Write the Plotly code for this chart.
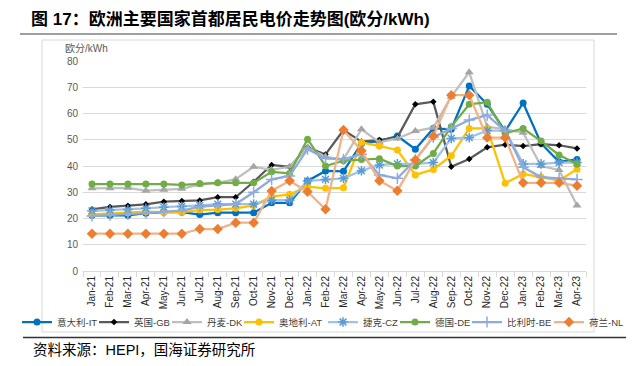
import plotly.graph_objects as go

months = ["Jan-21","Feb-21","Mar-21","Apr-21","May-21","Jun-21","Jul-21","Aug-21","Sep-21","Oct-21",
          "Nov-21","Dec-21","Jan-22","Feb-22","Mar-22","Apr-22","May-22","Jun-22","Jul-22","Aug-22",
          "Sep-22","Oct-22","Nov-22","Dec-22","Jan-23","Feb-23","Mar-23","Apr-23"]

it = [21.2,21.2,21.2,22.0,22.4,22.4,21.5,22.2,22.2,22.2,26.0,26.0,34.3,38.1,38.0,48.6,49.5,51.4,46.4,54.3,54.0,70.5,63.5,53.3,64.0,48.6,41.6,42.5]
gb = [23.5,24.4,24.9,25.4,26.4,26.7,26.9,28.1,28.1,34.0,40.4,39.7,47.1,44.4,53.7,49.3,49.9,50.9,63.5,64.5,39.7,42.7,47.1,48.1,47.6,48.3,47.9,46.7]
dk = [31.5,31.5,31.7,30.6,31.0,31.3,33.0,33.6,35.0,39.7,38.5,39.7,47.0,43.5,42.5,54.0,49.0,50.5,53.3,54.6,66.4,75.7,55.0,54.0,52.7,40.0,38.5,25.0]
at = [21.6,22.0,22.2,22.6,22.4,22.4,23.2,23.4,23.9,25.0,28.3,29.2,32.1,31.5,31.7,49.0,47.6,46.1,36.6,38.7,43.9,54.3,54.3,33.4,37.0,35.8,34.5,38.8]
cz = [22.9,23.2,23.4,23.9,24.3,24.6,25.0,25.5,25.5,25.5,27.0,27.0,34.3,34.9,35.3,38.2,40.4,40.8,40.8,41.3,50.5,50.8,53.5,53.5,40.8,40.8,41.3,41.3]
de = [33.1,33.1,33.1,33.1,33.1,32.8,33.3,33.6,33.6,33.6,37.8,37.2,50.2,40.0,42.0,42.5,42.8,40.0,40.0,44.8,55.0,63.5,64.3,52.4,54.3,49.5,44.2,40.8]
be = [21.0,21.3,21.6,22.0,22.6,23.0,24.5,25.0,25.5,30.0,34.9,36.2,46.4,42.9,42.5,44.5,36.6,35.3,42.3,51.0,54.3,57.5,59.4,53.3,39.5,35.8,35.3,34.9]
nl = [14.2,14.2,14.2,14.2,14.2,14.2,16.0,16.0,18.4,18.4,30.5,34.4,30.2,23.5,53.7,45.8,34.4,30.6,42.3,51.4,67.0,67.0,50.8,50.8,33.6,33.6,33.6,32.5]

names = ["意大利-IT","英国-GB","丹麦-DK","奥地利-AT","捷克-CZ","德国-DE","比利时-BE","荷兰-NL"]
series = [it, gb, dk, at, cz, de, be, nl]
line_colors = ["#0070C0","#595959","#BFBFBF","#FFC000","#9DC3E6","#70AD47","#8FAADC","#F4B183"]
marker_colors = ["#0070C0","#000000","#A5A5A5","#FFC000","#5B9BD5","#70AD47","#8FAADC","#ED7D31"]
symbols = ["circle","diamond","triangle-up","circle","asterisk-open","circle","cross-thin-open","diamond"]
msizes = [7,5,8,7,8,7,8,8]
legend_widths = [32,28,27,39,27,27,37,34]
legend_ids = ["legend","legend","legend","legend","legend2","legend2","legend2","legend2"]

W, H = 637, 366
L, R, T, B = 83, 586, 61, 271  # plot area in px

def px(x):
    return (x - L) / (R - L)

def py(y):
    return (B - y) / (B - T)

fig = go.Figure()
for n, s, lc, mc, sym, ms, lw, lg in zip(names, series, line_colors, marker_colors, symbols,
                                        msizes, legend_widths, legend_ids):
    open_sym = sym.endswith("open")
    fig.add_trace(go.Scatter(
        x=months, y=s, name=n, mode="lines+markers", legendwidth=lw, legend=lg,
        line=dict(color=lc, width=2.25),
        marker=dict(symbol=sym, size=ms, color=mc,
                    line=dict(color=mc, width=1.5 if open_sym else 0)),
    ))

font_cn = "Liberation Sans, Arial, Noto Sans CJK SC"
leg_common = dict(orientation="h", yanchor="middle", xanchor="left", itemwidth=30,
                  font=dict(size=9.5, color="#404040"), bgcolor="rgba(0,0,0,0)",
                  traceorder="normal")

fig.update_layout(
    width=W, height=H,
    margin=dict(l=L, r=W - R, t=T, b=H - B, pad=0, autoexpand=False),
    paper_bgcolor="white", plot_bgcolor="white",
    font=dict(family=font_cn, size=10, color="#404040"),
    showlegend=True,
    legend=dict(x=px(17), y=py(322), **leg_common),
    legend2=dict(x=px(323), y=py(322), **leg_common),
    xaxis=dict(type="category", range=[-0.5, len(months) - 0.5], tickangle=-90,
               tickfont=dict(size=10, color="#262626"), showline=True, linecolor="#D9D9D9",
               linewidth=1, ticks="outside", tickson="boundaries", ticklen=5,
               tickcolor="#D9D9D9", showgrid=False, zeroline=False, fixedrange=True),
    yaxis=dict(range=[0, 80], dtick=10, tickfont=dict(size=10, color="#595959"),
               gridcolor="#D9D9D9", gridwidth=1, zeroline=False, showline=False,
               ticks="", ticklabelstandoff=4, fixedrange=True),
    shapes=[
        dict(type="rect", xref="paper", yref="paper", x0=px(42), x1=px(594), y0=py(332), y1=py(40),
             line=dict(color="#D9D9D9", width=1), layer="below"),
        dict(type="line", xref="paper", yref="paper", x0=px(20), x1=px(617), y0=py(34), y1=py(34),
             line=dict(color="#404040", width=1)),
        dict(type="line", xref="paper", yref="paper", x0=px(23), x1=px(626), y0=py(337.5), y1=py(337.5),
             line=dict(color="#333333", width=1.5)),
    ],
    annotations=[
        dict(text="<b>图 17：欧洲主要国家首都居民电价走势图(欧分/kWh)</b>", xref="paper", yref="paper",
             x=px(29), y=py(19), xanchor="left", yanchor="middle", showarrow=False,
             font=dict(size=17, color="#000000", family=font_cn)),
        dict(text="欧分/kWh", xref="paper", yref="paper", x=px(63), y=py(48),
             xanchor="left", yanchor="middle", showarrow=False,
             font=dict(size=10, color="#595959", family=font_cn)),
        dict(text="资料来源：HEPI，国海证券研究所", xref="paper", yref="paper", x=px(31), y=py(350),
             xanchor="left", yanchor="middle", showarrow=False,
             font=dict(size=14.5, color="#000000", family=font_cn)),
    ],
)

fig.write_html("out.html", config={"displayModeBar": False},
               post_script="document.body.style.margin='0px';")
